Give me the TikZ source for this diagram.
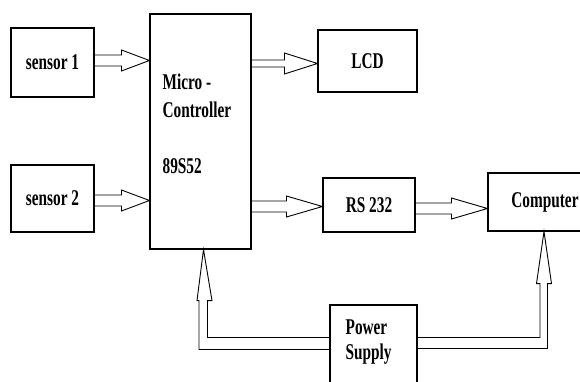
\documentclass[tikz,border=0pt]{standalone}
\usepackage{fontspec}
\newfontfamily\boxfont[FakeStretch=0.68]{Liberation Serif}
\usetikzlibrary{calc}
\newcommand\flowarrow[4]{%
  \draw[pipe] ($#1+(0,#4)$) -- ($#2+(-#3,#4)$) -- ($#2+(-#3,10.5)$) -- ($#2$)
    -- ($#2+(-#3,-10.5)$) -- ($#2+(-#3,-#4)$) -- ($#1+(0,-#4)$);}
\begin{document}
\begin{tikzpicture}[x=1pt, y=-1pt,
  block/.style={draw, line width=1.1pt, inner sep=0pt},
  txt/.style={font=\boxfont\bfseries\fontsize{22.5}{28}\selectfont},
  pipe/.style={line width=0.9pt, line join=miter}]
  \path[use as bounding box, fill=white] (0,0) rectangle (580,382);
  \node[block, txt, minimum width=83pt, minimum height=69pt] (s1) at (52.5,62.5) {sensor 1};
  \node[block, txt, minimum width=83pt, minimum height=67pt] (s2) at (52.5,198.5) {sensor 2};
  \node[block, minimum width=101pt, minimum height=235pt,
        label={[txt, anchor=north west, align=left, inner sep=0pt, xshift=13pt, yshift=-60pt]north west:{Micro -\\Controller\\[28pt]89S52}}] (mcu) at (200.5,131.5) {};
  \node[block, txt, minimum width=99pt, minimum height=62pt] (lcd) at (367.5,61) {LCD};
  \node[block, txt, minimum width=92pt, minimum height=54pt] (rs) at (369,205) {RS 232};
  \node[block, txt, minimum width=114pt, minimum height=58pt] (comp) at (545,202) {Computer};
  \node[block, minimum width=87pt, minimum height=95pt,
        label={[txt, font=\boxfont\bfseries\fontsize{22.5}{25}\selectfont, anchor=north west, align=left, inner sep=0pt, xshift=16pt, yshift=-15pt]north west:{Power\\Supply}}] (ps) at (373.5,352.5) {};
  \flowarrow{(s1.east)+(0,-2)}{(mcu.west |- s1.east)+(0,-2)}{28}{5.5}
  \flowarrow{(s2.east)+(0,2)}{(mcu.west |- s2.east)+(0,2)}{28}{5.5}
  \flowarrow{(mcu.east |- lcd.west)+(0,2.5)}{(lcd.west)+(0,2.5)}{33}{3.5}
  \flowarrow{(mcu.east |- rs.west)+(0,1.5)}{(rs.west)+(0,1.5)}{36}{5.5}
  \flowarrow{(rs.east)+(0,3.5)}{(comp.west |- rs.east)+(0,3.5)}{36}{5.5}
  \coordinate (pl) at ($(mcu.south)+(3,0)$);
  \coordinate (pr) at ($(comp.south)+(-1,0)$);
  \draw[pipe] ($(ps.north west)+(0,45)$) -| ($(pl)+(-4.5,51)$) -- ++(-2,0) -- (pl)
    -- ($(pl)+(8.5,51)$) -- ++(-4.5,0) |- ($(ps.north west)+(0,33)$);
  \draw[pipe] ($(ps.north east)+(0,33)$) -| ($(pr)+(-4,52)$) -- ++(-3.5,0) -- (pr)
    -- ($(pr)+(7.5,52)$) -- ++(-4,0) |- ($(ps.north east)+(0,44)$);
\end{tikzpicture}
\end{document}
